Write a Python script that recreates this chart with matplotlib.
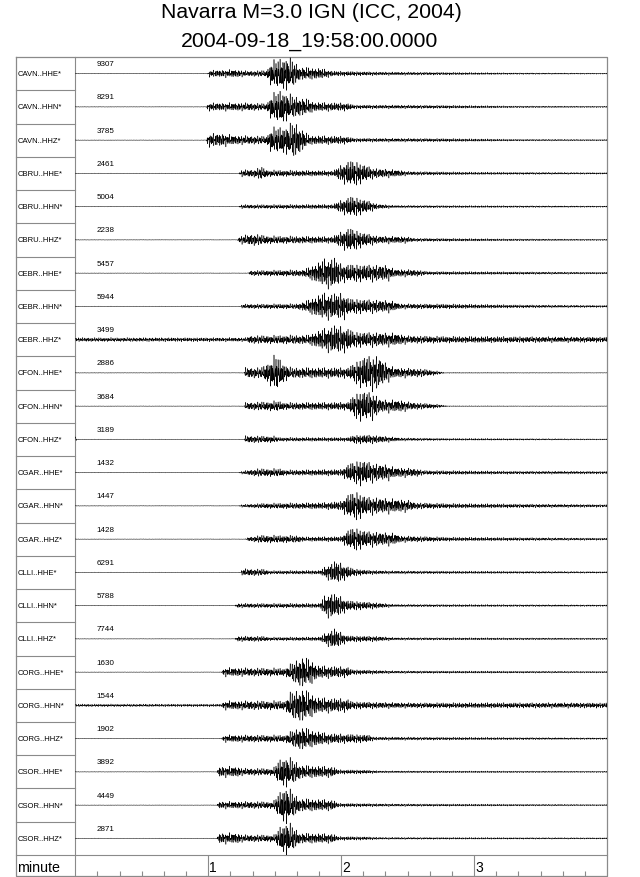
import numpy as np
import matplotlib
matplotlib.use("Agg")
import matplotlib.pyplot as plt

plt.rcParams['font.family'] = ['Liberation Sans', 'DejaVu Sans']

TITLE_1 = "Navarra M=3.0 IGN (ICC, 2004)"
TITLE_2 = "2004-09-18_19:58:00.0000"

STATIONS = [
    "CAVN..HHE*", "CAVN..HHN*", "CAVN..HHZ*",
    "CBRU..HHE*", "CBRU..HHN*", "CBRU..HHZ*",
    "CEBR..HHE*", "CEBR..HHN*", "CEBR..HHZ*",
    "CFON..HHE*", "CFON..HHN*", "CFON..HHZ*",
    "CGAR..HHE*", "CGAR..HHN*", "CGAR..HHZ*",
    "CLLI..HHE*", "CLLI..HHN*", "CLLI..HHZ*",
    "CORG..HHE*", "CORG..HHN*", "CORG..HHZ*",
    "CSOR..HHE*", "CSOR..HHN*", "CSOR..HHZ*",
]
MAX_COUNTS = [9307, 8291, 3785, 2461, 5004, 2238, 5457, 5944, 3499,
              2886, 3684, 3189, 1432, 1447, 1428, 6291, 5788, 7744,
              1630, 1544, 1902, 3892, 4449, 2871]

# amplitude envelope of each trace
# (time in minutes, half amplitude in relative units)
ENV_T = [
    [0, 0.995, 1.01, 1.2, 1.3, 1.44, 1.47, 1.58, 1.64, 1.69, 1.85, 1.94, 2.3, 2.8, 3.3, 4],
    [0, 0.985, 1.0, 1.3, 1.44, 1.47, 1.55, 1.62, 1.74, 1.8, 2.04, 2.1, 2.8, 3.3, 4],
    [0, 0.985, 1.0, 1.1, 1.2, 1.44, 1.47, 1.6, 1.65, 1.72, 1.76, 2.03, 2.1, 2.8, 3.3, 4],
    [0, 1.23, 1.25, 1.35, 1.40, 1.45, 1.94, 1.98, 2.06, 2.12, 2.24, 2.44, 2.5, 3.0, 4],
    [0, 1.23, 1.25, 1.94, 1.98, 2.07, 2.12, 2.22, 2.27, 2.4, 3.0, 4],
    [0, 1.22, 1.24, 1.34, 1.46, 1.93, 1.98, 2.06, 2.15, 2.27, 2.49, 2.55, 3.2, 4],
    [0, 1.30, 1.32, 1.71, 1.77, 1.88, 1.95, 2.0, 2.35, 2.4, 2.57, 2.65, 3.3, 4],
    [0, 1.24, 1.26, 1.66, 1.72, 1.86, 2.02, 2.06, 2.37, 2.45, 2.82, 3.3, 4],
    [0, 1.29, 1.31, 1.75, 1.86, 1.95, 2.05, 2.1, 2.4, 2.5, 2.8, 4],
    [0, 1.27, 1.28, 1.4, 1.46, 1.51, 1.56, 1.62, 2.05, 2.12, 2.17, 2.28, 2.33, 2.4, 2.62, 2.72, 2.78, 4],
    [0, 1.27, 1.28, 1.45, 1.52, 1.58, 2.05, 2.1, 2.16, 2.24, 2.3, 2.45, 2.52, 2.72, 2.8, 4],
    [0, 0.01, 1.27, 1.28, 1.5, 1.53, 2.05, 2.1, 2.2, 2.37, 2.45, 2.8, 4],
    [0, 1.23, 1.25, 1.37, 1.55, 1.58, 2.0, 2.06, 2.15, 2.25, 2.35, 2.4, 2.57, 2.62, 3.2, 4],
    [0, 1.23, 1.25, 1.42, 1.86, 2.0, 2.05, 2.12, 2.19, 2.5, 2.56, 2.82, 4],
    [0, 1.28, 1.30, 1.40, 1.68, 1.72, 2.0, 2.05, 2.1, 2.2, 2.4, 2.45, 2.82, 4],
    [0, 1.24, 1.26, 1.42, 1.46, 1.84, 1.89, 1.96, 2.02, 2.09, 2.2, 2.37, 4],
    [0, 1.2, 1.22, 1.84, 1.87, 1.92, 1.98, 2.05, 2.27, 2.4, 4],
    [0, 1.2, 1.22, 1.42, 1.46, 1.84, 1.89, 1.95, 2.0, 2.05, 2.27, 2.4, 4],
    [0, 1.1, 1.12, 1.58, 1.63, 1.7, 1.78, 1.82, 2.05, 2.08, 2.24, 2.4, 4],
    [0, 1.1, 1.12, 1.58, 1.62, 1.7, 1.78, 1.82, 2.05, 2.08, 2.24, 2.5, 4],
    [0, 1.1, 1.12, 1.58, 1.63, 1.7, 1.8, 1.9, 2.2, 2.25, 4],
    [0, 1.065, 1.08, 1.22, 1.26, 1.49, 1.53, 1.58, 1.66, 1.7, 1.94, 1.98, 2.17, 2.3, 4],
    [0, 1.065, 1.08, 1.49, 1.53, 1.58, 1.63, 1.69, 1.94, 1.98, 2.4, 4],
    [0, 1.065, 1.08, 1.22, 1.26, 1.5, 1.54, 1.59, 1.65, 1.69, 1.94, 1.98, 2.17, 2.3, 4],
]
ENV_A = [
    [0.2, 0.2, 2.5, 3, 2, 2.5, 9, 13, 10, 5, 4, 2, 1.3, 1, 0.6, 0.4],
    [0.2, 0.2, 3, 3, 2.5, 9, 13, 9, 6, 3.5, 3, 1.5, 1.2, 0.7, 0.5],
    [0.2, 0.2, 5, 5, 3.5, 3, 9, 11, 14, 7, 3.5, 3, 1.5, 1.2, 0.7, 0.5],
    [0.2, 0.2, 2.5, 3, 5, 2.5, 2, 5, 10, 9, 4, 2.5, 1.5, 1, 0.6],
    [0.2, 0.2, 1.5, 1.7, 4, 8, 7, 4, 2, 1, 0.8, 0.5],
    [0.2, 0.2, 3, 4.5, 3, 2.5, 5, 9.5, 6, 3, 2.5, 1.3, 0.8, 0.5],
    [0.2, 0.2, 2, 2.5, 5, 11, 12, 7, 6, 3, 2.5, 1.3, 1, 0.7],
    [0.2, 0.2, 1.7, 2, 3.5, 10, 10, 6, 4.5, 2, 1.8, 1.2, 0.8],
    [1.5, 1.5, 3, 3.5, 8, 11, 9, 6, 5, 3, 2.5, 2],
    [0.2, 0.2, 4, 4, 9, 14, 8, 4, 4, 9, 13, 13, 8, 4, 3, 1.5, 0.3, 0.2],
    [0.2, 0.2, 2.7, 3.5, 4, 2.7, 3, 9, 12, 10, 5, 4.5, 3, 1.5, 0.3, 0.2],
    [3, 0.2, 0.2, 2.7, 2.5, 1.5, 1.5, 3.3, 3.5, 2, 1.2, 0.8, 0.4],
    [0.2, 0.2, 1, 3, 3, 2, 2.5, 7, 10, 7, 6, 4, 3, 1.7, 1.2, 1],
    [0.2, 0.2, 1, 2, 2.5, 3.5, 9, 11, 7, 4.5, 2.5, 1.8, 1],
    [0.2, 0.2, 1.5, 3, 2.7, 1.7, 2, 7, 9, 6, 4.5, 2.5, 1.5, 0.8],
    [0.2, 0.2, 2.7, 2.5, 1.3, 1.5, 5, 9, 6, 3, 1.7, 1.2, 0.6],
    [0.2, 0.2, 1.7, 1.7, 7, 10, 8, 4, 2.2, 1, 0.6],
    [0.2, 0.2, 2, 2, 1.3, 1.5, 5, 8, 5, 2.5, 2, 1, 0.6],
    [0.2, 0.2, 3.3, 3, 7, 12, 9, 5, 4, 2, 1.5, 1, 0.6],
    [1.0, 1.0, 3.3, 3.5, 10, 13, 9, 6, 5, 3, 2.5, 2, 2],
    [0.2, 0.2, 2.7, 2.7, 6, 9, 6, 4, 3, 1.3, 0.6],
    [0.2, 0.2, 4, 4, 2.7, 2.7, 9, 12, 8, 5, 4, 1.7, 1.5, 0.8, 0.5],
    [0.2, 0.2, 2.7, 2.7, 9, 15, 10, 5, 4, 1.5, 1, 0.5],
    [0.2, 0.2, 4, 4, 2.7, 2.7, 9, 13, 8, 4, 3.5, 1.5, 1.3, 0.8, 0.5],
]

T_MAX = 4.0
N_SAMPLES = 12000
GAIN = 1.3 / 33.25

# figure layout in pixels (640 x 878)
W, H = 640, 878
X0, X_DIV, X1 = 16, 75.3, 607
Y_TOP, Y_AXIS, Y_BOT = 58, 856, 877
FRAME = "#8a8a8a"

fig = plt.figure(figsize=(W / 100, H / 100), dpi=100)

over = fig.add_axes([0, 0, 1, 1])
over.set_xlim(0, W)
over.set_ylim(H, 0)
over.axis("off")

ax = fig.add_axes([X_DIV / W, (H - Y_AXIS) / H, (X1 - X_DIV) / W, (Y_AXIS - Y_TOP) / H])
ax.set_xlim(0, T_MAX)
ax.set_ylim(len(STATIONS) - 0.5, -0.5)
ax.axis("off")

# wiggle texture only; the envelope above carries the trace amplitude
t = np.linspace(0, T_MAX, N_SAMPLES)
carrier = (0.5 * np.sin(2 * np.pi * 131.3 * t)
           + 0.3 * np.sin(2 * np.pi * 89.7 * t + 1.0)
           + 0.3 * np.sin(2 * np.pi * 197.3 * t + 2.0)
           + 0.2 * np.sin(2 * np.pi * 57.1 * t + 0.3)) / 1.1

for i, name in enumerate(STATIONS):
    env = np.interp(t, ENV_T[i], ENV_A[i])
    y = i - env * carrier * GAIN
    ax.plot(t, y, color="black", lw=0.35)

row_h = (Y_AXIS - Y_TOP) / len(STATIONS)
for i, name in enumerate(STATIONS):
    yb = Y_TOP + (i + 0.5) * row_h
    over.text(X0 + 1.5, yb, name, fontsize=5.5, ha="left", va="center")
    over.text(96.5, yb - 10, str(MAX_COUNTS[i]), fontsize=5.8, ha="left", va="center")
    if i > 0:
        over.plot([X0, X_DIV], [Y_TOP + i * row_h] * 2, color=FRAME, lw=0.8)

# frame
over.plot([X0, X1, X1, X0, X0], [Y_TOP, Y_TOP, Y_BOT, Y_BOT, Y_TOP], color=FRAME, lw=0.9)
over.plot([X_DIV, X_DIV], [Y_TOP, Y_BOT], color=FRAME, lw=0.8)
over.plot([X0, X1], [Y_AXIS, Y_AXIS], color=FRAME, lw=0.8)

# time axis row
axr = fig.add_axes([X_DIV / W, (H - Y_BOT) / H, (X1 - X_DIV) / W, (Y_BOT - Y_AXIS) / H])
axr.set_xlim(0, T_MAX)
axr.set_ylim(0, 1)
axr.axis("off")
minutes = [1, 2, 3]
minor = [m / 6 for m in range(1, 24) if m % 6 != 0]
axr.vlines(minutes, 0, 1, color=FRAME, lw=0.8)
axr.vlines(minor, 0, 5 / 21, color=FRAME, lw=0.8)
for m in minutes:
    axr.text(m + 1.2 / 133, 0.42, str(m), fontsize=10, ha="left", va="center")
over.text(X0 + 1.5, 868, "minute", fontsize=10.3, ha="left", va="center")

fig.text(311.5 / W, 1 - 18.5 / H, TITLE_1, fontsize=15.3, ha="center", va="baseline")
fig.text(309 / W, 1 - 46.5 / H, TITLE_2, fontsize=15.3, ha="center", va="baseline")

fig.savefig("out.png", dpi=100)
